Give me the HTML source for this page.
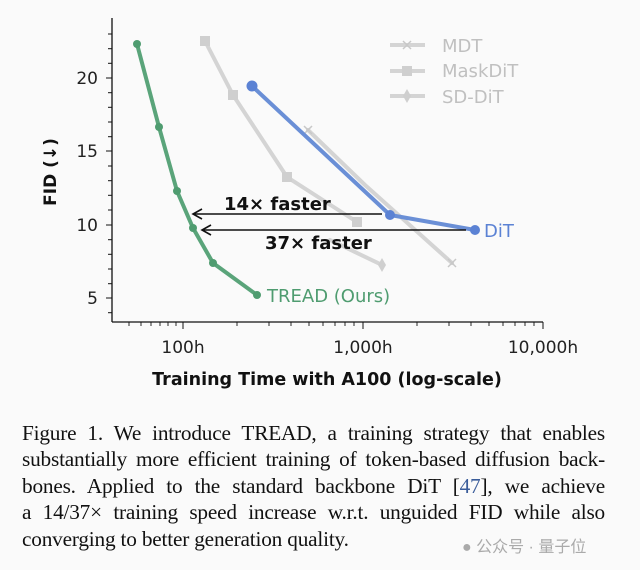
<!DOCTYPE html>
<html><head><meta charset="utf-8"><style>
body{margin:0;background:#fafafa;width:640px;height:570px;overflow:hidden}
.cap{position:absolute;left:22px;top:420px;width:583px;font-family:"Liberation Serif",serif;font-size:21.3px;line-height:26.4px;color:#111;letter-spacing:-0.2px}
.cap div{text-align:justify;text-align-last:justify;white-space:nowrap}
.cap div.l{text-align-last:left}
</style></head><body>
<svg width="640" height="410" style="position:absolute;left:0;top:0" font-family="DejaVu Sans, sans-serif">
<rect width="640" height="410" fill="#fafafa"/>
<g stroke="#111" stroke-width="1.3">
<line x1="112" y1="18" x2="112" y2="322"/>
<line x1="112" y1="322" x2="543" y2="322"/>
<g stroke-width="1">
<line x1="106" y1="78" x2="112" y2="78"/><line x1="106" y1="151" x2="112" y2="151"/><line x1="106" y1="225" x2="112" y2="225"/><line x1="106" y1="298" x2="112" y2="298"/>
<line x1="108" y1="34" x2="112" y2="34"/><line x1="108" y1="48.7" x2="112" y2="48.7"/><line x1="108" y1="63.3" x2="112" y2="63.3"/>
<line x1="108" y1="92.7" x2="112" y2="92.7"/><line x1="108" y1="107.3" x2="112" y2="107.3"/><line x1="108" y1="122" x2="112" y2="122"/><line x1="108" y1="136.7" x2="112" y2="136.7"/>
<line x1="108" y1="166" x2="112" y2="166"/><line x1="108" y1="180.7" x2="112" y2="180.7"/><line x1="108" y1="195.3" x2="112" y2="195.3"/><line x1="108" y1="210" x2="112" y2="210"/>
<line x1="108" y1="239.7" x2="112" y2="239.7"/><line x1="108" y1="254.3" x2="112" y2="254.3"/><line x1="108" y1="269" x2="112" y2="269"/><line x1="108" y1="283.7" x2="112" y2="283.7"/>
<line x1="108" y1="312.7" x2="112" y2="312.7"/>
<line x1="183" y1="322" x2="183" y2="329"/><line x1="363" y1="322" x2="363" y2="329"/><line x1="543" y1="322" x2="543" y2="329"/>
</g>
<g stroke-width="0.9">
<line x1="129" y1="322" x2="129" y2="326"/><line x1="141" y1="322" x2="141" y2="326"/><line x1="151" y1="322" x2="151" y2="326"/><line x1="160" y1="322" x2="160" y2="326"/><line x1="168" y1="322" x2="168" y2="326"/><line x1="176" y1="322" x2="176" y2="326"/>
<line x1="237" y1="322" x2="237" y2="326"/><line x1="269" y1="322" x2="269" y2="326"/><line x1="291" y1="322" x2="291" y2="326"/><line x1="309" y1="322" x2="309" y2="326"/><line x1="323" y1="322" x2="323" y2="326"/><line x1="335" y1="322" x2="335" y2="326"/><line x1="345" y1="322" x2="345" y2="326"/><line x1="354" y1="322" x2="354" y2="326"/>
<line x1="417" y1="322" x2="417" y2="326"/><line x1="449" y1="322" x2="449" y2="326"/><line x1="471" y1="322" x2="471" y2="326"/><line x1="489" y1="322" x2="489" y2="326"/><line x1="503" y1="322" x2="503" y2="326"/><line x1="515" y1="322" x2="515" y2="326"/><line x1="525" y1="322" x2="525" y2="326"/><line x1="534" y1="322" x2="534" y2="326"/>
</g></g>
<g font-size="17" fill="#222" text-anchor="end">
<text x="98" y="84">20</text><text x="98" y="157">15</text><text x="98" y="231">10</text><text x="98" y="304">5</text></g>
<g font-size="17" fill="#222" text-anchor="middle">
<text x="183" y="353">100h</text><text x="363" y="353">1,000h</text><text x="543" y="353">10,000h</text></g>
<text x="327" y="385" font-size="17.5" font-weight="bold" text-anchor="middle" fill="#111">Training Time with A100 (log-scale)</text>
<text transform="translate(56,172) rotate(-90)" font-size="17" font-weight="bold" text-anchor="middle" fill="#111">FID (↓)</text>
<g stroke="#d4d4d4" stroke-width="4" fill="none" stroke-linecap="round">
<polyline points="205,41 233,95 287,177 357,222"/>
<polyline points="308,130 365,185 452,263"/>
<polyline points="330,240 382,265"/>
</g>
<g fill="#cfcfcf"><rect x="200" y="36" width="10" height="10"/><rect x="228" y="90" width="10" height="10"/><rect x="282" y="172" width="10" height="10"/><rect x="352" y="217" width="10" height="10"/>
<polygon points="382,258 386,265 382,272 378,265"/></g>
<g stroke="#c8c8c8" stroke-width="1.5"><line x1="448" y1="259" x2="456" y2="267"/><line x1="456" y1="259" x2="448" y2="267"/><line x1="304" y1="126" x2="312" y2="134"/><line x1="312" y1="126" x2="304" y2="134"/></g>
<g stroke="#d4d4d4" stroke-width="4"><line x1="390" y1="45" x2="425" y2="45"/><line x1="390" y1="71" x2="425" y2="71"/><line x1="390" y1="96" x2="425" y2="96"/></g>
<rect x="402" y="66" width="10" height="10" fill="#cfcfcf"/>
<polygon points="407,89 411,96 407,103 403,96" fill="#cfcfcf"/>
<g stroke="#c8c8c8" stroke-width="1.5"><line x1="403" y1="41" x2="411" y2="49"/><line x1="411" y1="41" x2="403" y2="49"/></g>
<g font-size="18" fill="#c0c0c0"><text x="442" y="52">MDT</text><text x="442" y="77">MaskDiT</text><text x="442" y="103">SD-DiT</text></g>
<polyline points="252,86 390,215 475,230" stroke="#6a8fd6" stroke-width="4" fill="none"/>
<g fill="#5b82d4"><circle cx="252" cy="86" r="5.5"/><circle cx="390" cy="215" r="5"/><circle cx="475" cy="230" r="5"/></g>
<text x="484" y="237" font-size="18" fill="#5b82d4">DiT</text>
<polyline points="137,44 159,127 177,191 193,228 213,263 257,295" stroke="#5aa47a" stroke-width="4" fill="none"/>
<g fill="#4f9c70"><circle cx="137" cy="44" r="4"/><circle cx="159" cy="127" r="4"/><circle cx="177" cy="191" r="4"/><circle cx="193" cy="228" r="4"/><circle cx="213" cy="263" r="4"/><circle cx="257" cy="295" r="4"/></g>
<text x="267" y="302" font-size="18" fill="#4f9c70">TREAD (Ours)</text>
<g stroke="#111" stroke-width="1.6" fill="none">
<line x1="193" y1="214" x2="382" y2="214"/><polyline points="202,209 193,214 202,219"/>
<line x1="202" y1="230" x2="466" y2="230"/><polyline points="211,225 202,230 211,235"/>
</g>
<text x="224" y="210" font-size="18" font-weight="bold" fill="#111">14× faster</text>
<text x="265" y="249" font-size="18" font-weight="bold" fill="#111">37× faster</text>
</svg>
<div class="cap">
<div>Figure 1. We introduce TREAD, a training strategy that enables</div>
<div>substantially more efficient training of token-based diffusion back-</div>
<div>bones. Applied to the standard backbone DiT [<span style="color:#3a5c9a">47</span>], we achieve</div>
<div>a 14/37× training speed increase w.r.t. unguided FID while also</div>
<div class="l">converging to better generation quality.</div>
</div>
<div style="position:absolute;left:462px;top:533px;font-family:'Liberation Sans','Noto Sans CJK SC',sans-serif;font-size:16px;color:#aaa">● 公众号 · 量子位</div>
</body></html>
